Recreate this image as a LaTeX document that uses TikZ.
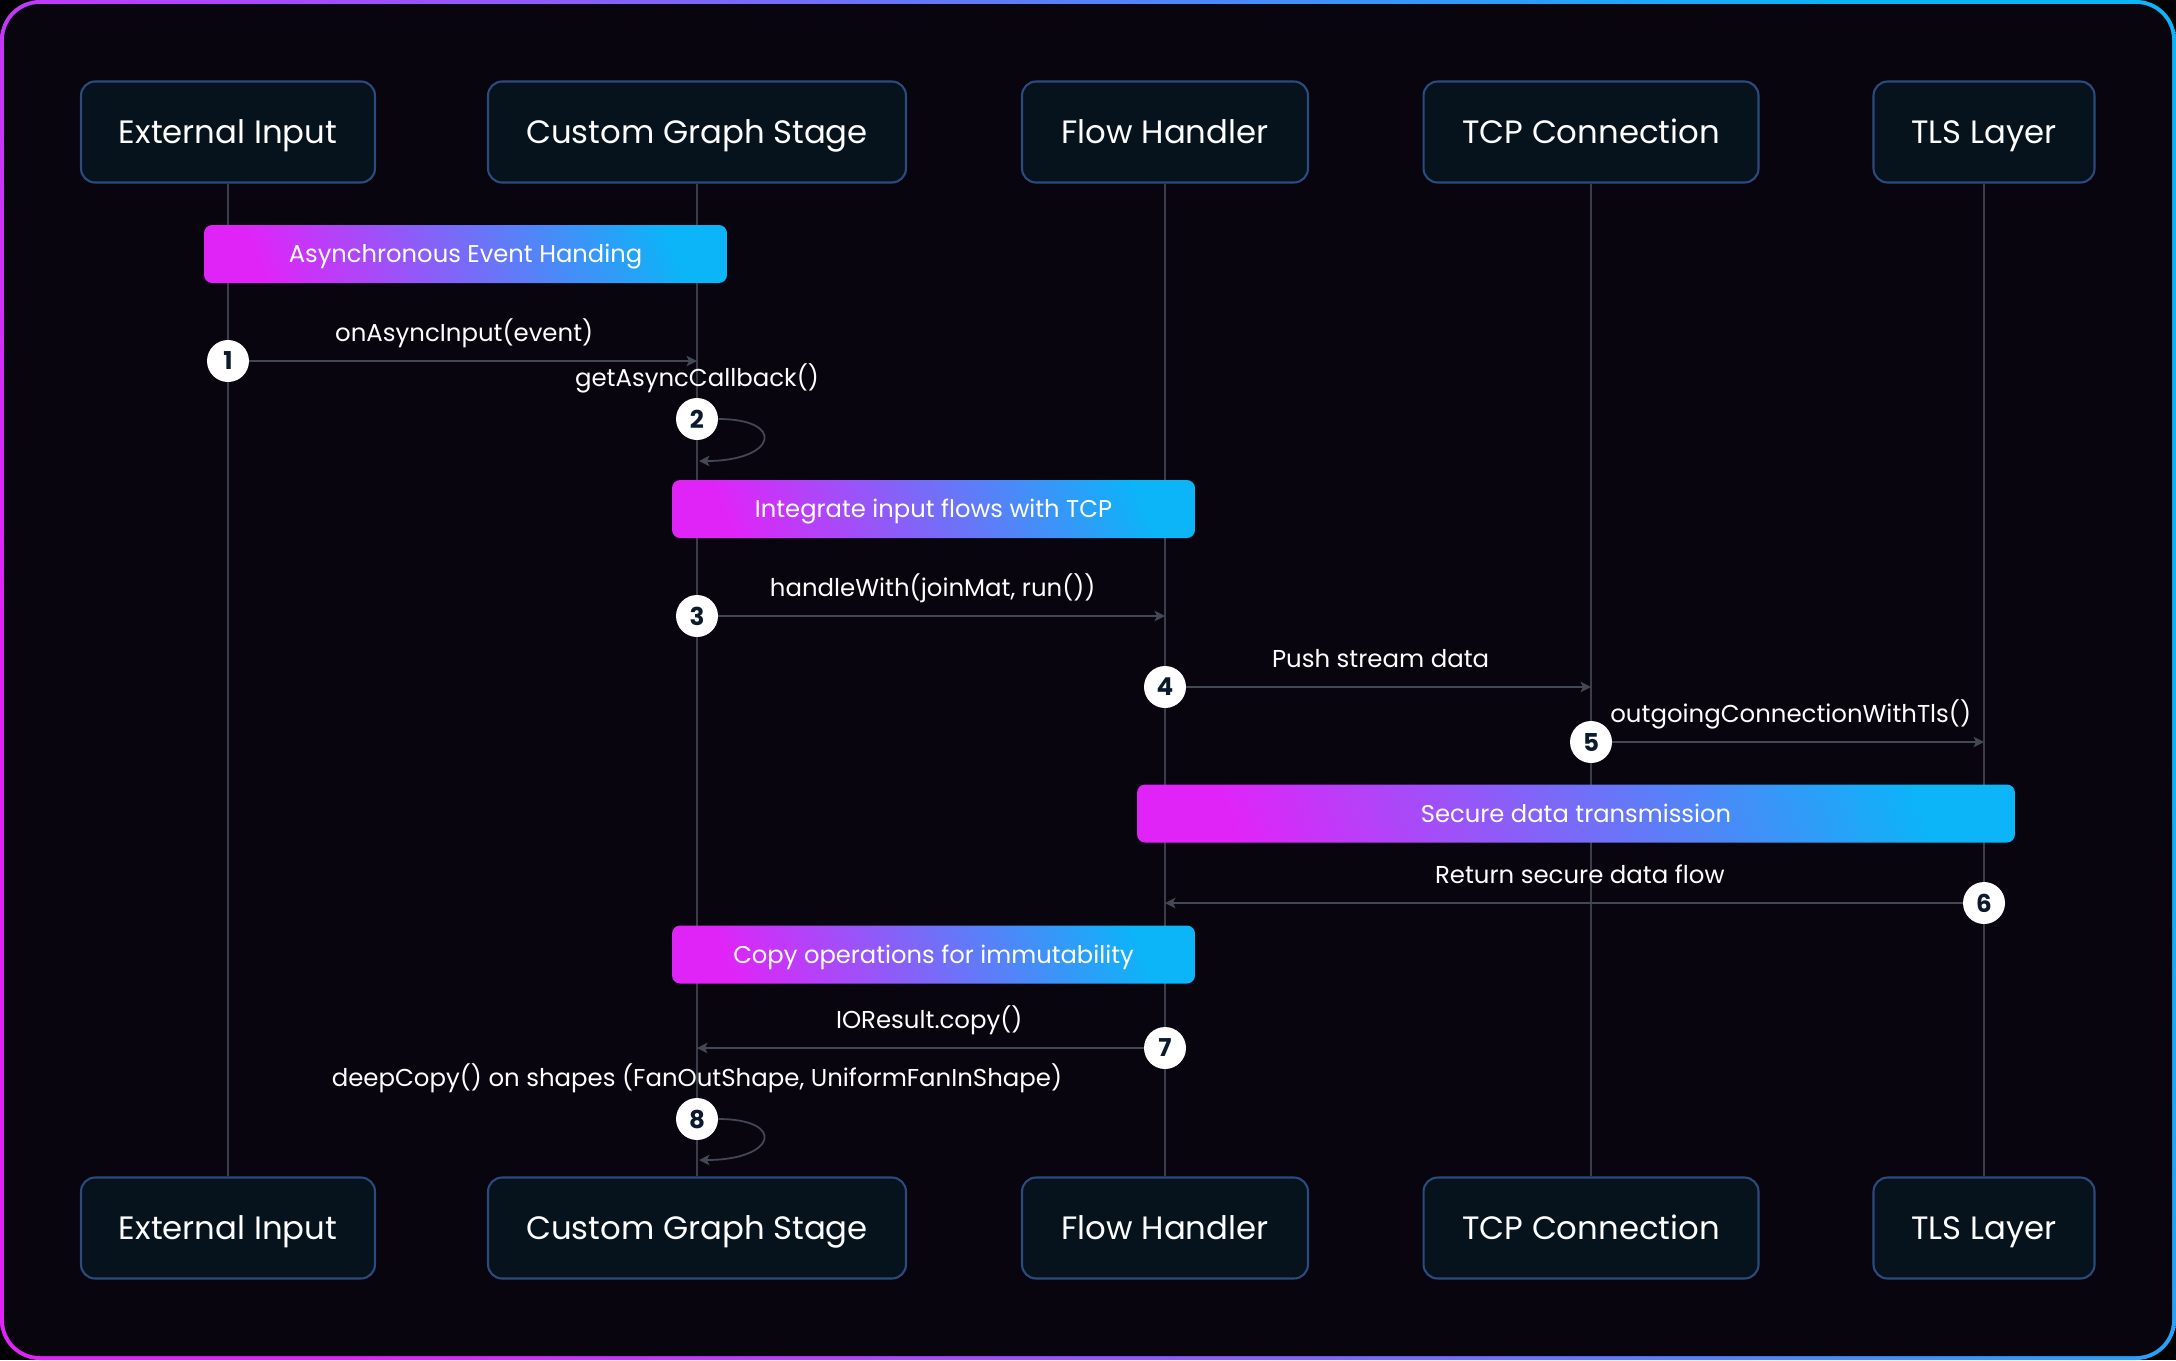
\documentclass[tikz,border=0pt]{standalone}
\usepackage{fontspec}
\setmainfont{Poppins}
\usetikzlibrary{arrows.meta,positioning}

\definecolor{bgdark}{HTML}{08050F}
\definecolor{boxfill}{HTML}{06121C}
\definecolor{boxline}{HTML}{2B4A7E}
\definecolor{lifegray}{HTML}{3A3D4A}
\definecolor{arrowgray}{HTML}{444854}
\definecolor{gradpink}{HTML}{E024F8}
\definecolor{gradblue}{HTML}{0CB4F8}
\definecolor{numnavy}{HTML}{0B1A2C}

\tikzset{
  actor/.style={draw=boxline, line width=1.2pt, fill=boxfill, rounded corners=0.28cm,
    minimum height=2.02cm, text=white, text height=16.6pt, text depth=3.7pt,
    font=\fontsize{18.4}{22}\selectfont},
  notebar/.style={rounded corners=0.16cm, left color=gradpink, right color=gradblue,
    shading angle=112, minimum height=1.16cm, text=white, text height=12pt, text depth=2pt,
    font=\fontsize{13.8}{16}\selectfont},
  stepnum/.style={circle, fill=white, minimum size=0.84cm, inner sep=0pt, text=numnavy,
    font=\fontsize{14}{16}\selectfont\bfseries},
  lifeline/.style={draw=lifegray, line width=0.8pt},
  msg/.style={draw=arrowgray, line width=1pt, -{Stealth[length=6pt, width=6pt, inset=1.5pt]}},
  msglabel/.style={text=white, inner sep=0pt, text height=8.5pt, text depth=1.5pt,
    font=\fontsize{13.9}{17}\selectfont}
}

\begin{document}
\begin{tikzpicture}[x=0.02cm, y=-0.02cm]
  % Frame with gradient border
  \fill[black] (0,0) rectangle (2176,1360);
  \path[rounded corners=0.8cm, left color=gradpink, right color=gradblue, shading angle=115]
    (0,0) rectangle (2176,1360);
  \fill[bgdark, rounded corners=0.72cm] (4,4) rectangle (2172,1356);

  % Participants on top
  \node[actor, minimum width=5.88cm] (eiTop) at (228,132) {External Input};
  \node[actor, minimum width=8.36cm] (cgsTop) at (697,132) {Custom Graph Stage};
  \node[actor, minimum width=5.72cm] (fhTop) at (1165,132) {Flow Handler};
  \node[actor, minimum width=6.70cm] (tcpTop) at (1591,132) {TCP Connection};
  \node[actor, minimum width=4.42cm] (tlsTop) at (1984,132) {TLS Layer};

  % Participants at the bottom
  \node[actor, minimum width=5.88cm] (eiBot) at (228,1228) {External Input};
  \node[actor, minimum width=8.36cm] (cgsBot) at (697,1228) {Custom Graph Stage};
  \node[actor, minimum width=5.72cm] (fhBot) at (1165,1228) {Flow Handler};
  \node[actor, minimum width=6.70cm] (tcpBot) at (1591,1228) {TCP Connection};
  \node[actor, minimum width=4.42cm] (tlsBot) at (1984,1228) {TLS Layer};

  % Lifelines
  \draw[lifeline] (eiTop) -- (eiBot);
  \draw[lifeline] (cgsTop) -- (cgsBot);
  \draw[lifeline] (fhTop) -- (fhBot);
  \draw[lifeline] (tcpTop) -- (tcpBot);
  \draw[lifeline] (tlsTop) -- (tlsBot);

  % Notes over the lifelines
  \node[notebar, minimum width=10.46cm] (noteAsync) at (465.5,254) {Asynchronous Event Handing};
  \node[notebar, minimum width=10.46cm] (noteTcp) at (933.5,509) {Integrate input flows with TCP};
  \node[notebar, minimum width=17.56cm] (noteSecure) at (1576,813.5) {Secure data transmission};
  \node[notebar, minimum width=10.46cm] (noteCopy) at (933.5,954.5) {Copy operations for immutability};

  % Step markers
  \node[stepnum] (s1) at (228,361) {1};
  \node[stepnum] (s2) at (697,419) {2};
  \node[stepnum] (s3) at (697,616) {3};
  \node[stepnum] (s4) at (1165,687) {4};
  \node[stepnum] (s5) at (1591,742) {5};
  \node[stepnum] (s6) at (1984,903) {6};
  \node[stepnum] (s7) at (1165,1048) {7};
  \node[stepnum] (s8) at (697,1119) {8};

  % Arrow ends on the lifelines
  \coordinate (t1) at (697,361);
  \coordinate (r2) at (699,461);
  \coordinate (t3) at (1165,616);
  \coordinate (t4) at (1591,687);
  \coordinate (t5) at (1984,742);
  \coordinate (t6) at (1165,903);
  \coordinate (t7) at (697,1048);
  \coordinate (r8) at (699,1160);

  % Messages
  \draw[msg] (s1) -- node[msglabel, pos=0.48, above=0.33cm] {onAsyncInput(event)} (t1);
  \node[msglabel, above=0.16cm of s2] (l2) {getAsyncCallback()};
  \draw[msg] (s2.east) .. controls +(68,0) and +(78,0) .. (r2);
  \draw[msg] (s3) -- node[msglabel, pos=0.48, above=0.33cm] {handleWith(joinMat, run())} (t3);
  \draw[msg] (s4) -- node[msglabel, pos=0.48, above=0.33cm] {Push stream data} (t4);
  \draw[msg] (s5) -- node[msglabel, pos=0.48, above=0.33cm] {outgoingConnectionWithTls()} (t5);
  \draw[msg] (s6) -- node[msglabel, pos=0.48, above=0.33cm] {Return secure data flow} (t6);
  \draw[msg] (s7) -- node[msglabel, pos=0.48, above=0.33cm] {IOResult.copy()} (t7);
  \node[msglabel, above=0.16cm of s8] (l8) {deepCopy() on shapes (FanOutShape, UniformFanInShape)};
  \draw[msg] (s8.east) .. controls +(68,0) and +(78,0) .. (r8);
\end{tikzpicture}
\end{document}
